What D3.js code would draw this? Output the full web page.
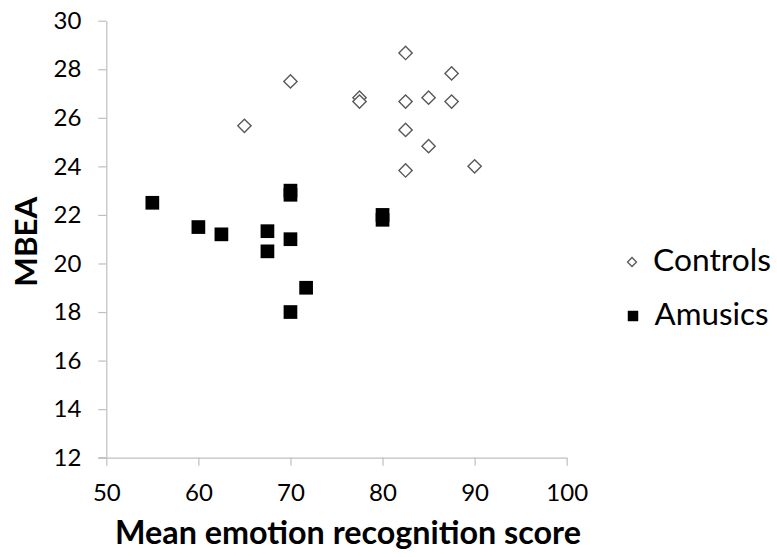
<!DOCTYPE html>
<html>
<head>
<meta charset="utf-8">
<script src="https://cdn.jsdelivr.net/npm/d3@7/dist/d3.min.js"></script>
<style>
  html, body { margin: 0; padding: 0; background: #fff; }
  svg { display: block; }
  text { font-family: Lato, "Open Sans", sans-serif; fill: #000; }
</style>
</head>
<body>
<svg id="chart" width="777" height="557"></svg>
<script>
// ---- data ----
const seriesNames = ["Controls", "Amusics"];
const controlsX = [65, 70, 77.5, 77.5, 82.5, 82.5, 82.5, 82.5, 85, 85, 87.5, 87.5, 90];
const controlsY = [25.67, 27.5, 26.83, 26.67, 28.67, 26.67, 25.5, 23.83, 26.83, 24.83, 27.83, 26.67, 24];
const amusicsX = [55, 60, 62.5, 67.5, 67.5, 70, 70, 70, 70, 71.7, 80, 80];
const amusicsY = [22.5, 21.5, 21.2, 21.33, 20.5, 23, 22.83, 21, 18, 19, 22, 21.8];
const xTicks = [50, 60, 70, 80, 90, 100];
const yTicks = [12, 14, 16, 18, 20, 22, 24, 26, 28, 30];
const xTitle = "Mean emotion recognition score";
const yTitle = "MBEA";

// ---- layout ----
const svg = d3.select("#chart");
const x = d3.scaleLinear().domain([50, 100]).range([106.3, 566.7]);
const y = d3.scaleLinear().domain([12, 30]).range([457.7, 20.7]);
const axisColor = "#bfbfbf";

function fitText(sel, target) {
  const node = sel.node();
  const fs = parseFloat(sel.attr("font-size"));
  const w = node.getComputedTextLength();
  sel.attr("font-size", (fs * target / w).toFixed(2));
}

// axes
const gy = svg.append("g").attr("transform", `translate(${x(50)},0)`)
  .call(d3.axisLeft(y).tickValues(yTicks).tickSize(8).tickSizeOuter(0).tickPadding(17));
const gx = svg.append("g").attr("transform", `translate(0,${y(12)})`)
  .call(d3.axisBottom(x).tickValues(xTicks).tickSize(8).tickSizeOuter(0).tickPadding(18.5));
[gx, gy].forEach(g => {
  g.select(".domain").attr("stroke", axisColor).attr("stroke-width", 1.2);
  g.selectAll(".tick line").attr("stroke", axisColor).attr("stroke-width", 1.2);
  g.selectAll(".tick text").attr("font-size", 24).attr("font-family", "Lato, 'Open Sans', sans-serif").attr("fill", "#000");
});
// extend x-axis line left to meet y tick at 12
svg.append("line").attr("x1", x(50) - 8).attr("x2", x(50)).attr("y1", y(12)).attr("y2", y(12))
  .attr("stroke", axisColor).attr("stroke-width", 1.2);

// markers
const diamond = d3.symbol().type(d3.symbolSquare).size(88);
const square = d3.symbol().type(d3.symbolSquare).size(188);

svg.append("g").selectAll("path").data(controlsX.map((v, i) => [v, controlsY[i]]))
  .join("path")
  .attr("d", diamond)
  .attr("transform", d => `translate(${x(d[0])},${y(d[1])}) rotate(45)`)
  .attr("fill", "#fff").attr("stroke", "#595959").attr("stroke-width", 1.4);

svg.append("g").selectAll("path").data(amusicsX.map((v, i) => [v, amusicsY[i]]))
  .join("path")
  .attr("d", square)
  .attr("transform", d => `translate(${x(d[0])},${y(d[1])})`)
  .attr("fill", "#000");

// axis titles
const xt = svg.append("text").attr("x", 115).attr("y", 543.5).attr("font-size", 28)
  .attr("font-weight", "bold").text(xTitle);
fitText(xt, 466);
const yt = svg.append("text").attr("transform", `translate(36.7,241.7) rotate(-90)`)
  .attr("text-anchor", "middle").attr("font-size", 28).attr("font-weight", "bold").text(yTitle);
fitText(yt, 90);

// legend
const legend = svg.append("g");
legend.append("path").attr("d", d3.symbol().type(d3.symbolSquare).size(40))
  .attr("transform", "translate(632,262) rotate(45)")
  .attr("fill", "#fff").attr("stroke", "#595959").attr("stroke-width", 1.3);
legend.append("path").attr("d", d3.symbol().type(d3.symbolSquare).size(110))
  .attr("transform", "translate(633,316)")
  .attr("fill", "#000");
const l1 = legend.append("text").attr("x", 653).attr("y", 270.5).attr("font-size", 28).text(seriesNames[0]);
fitText(l1, 118);
const l2 = legend.append("text").attr("x", 654.5).attr("y", 324.5).attr("font-size", 28).text(seriesNames[1]);
fitText(l2, 114);
</script>
</body>
</html>
